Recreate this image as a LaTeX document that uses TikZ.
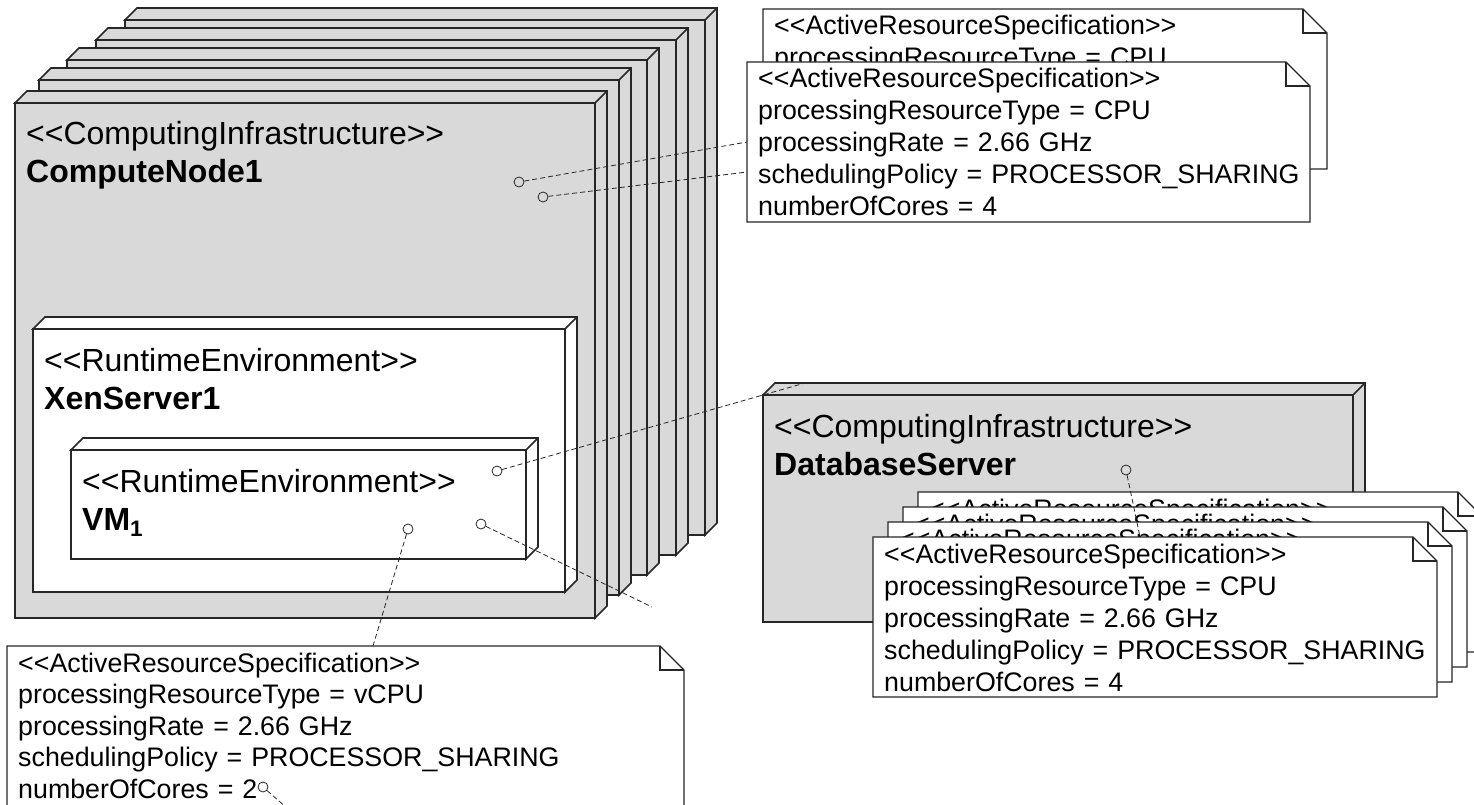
\documentclass[tikz,border=0pt]{standalone}
\usepackage{fontspec}
\newfontfamily\umlfont{Liberation Sans}
\definecolor{NodeGray}{HTML}{D9D9D9}
\definecolor{Ink}{HTML}{262626}

\newcommand\boxfaces[2]{%
  \filldraw[boxedge,fill=#2] (#1.north west) -- ++(12,-12) -- ([shift={(12,-12)}]#1.north east)
    -- ([shift={(12,-12)}]#1.south east) -- (#1.south east) -- (#1.north east) -- cycle;
  \draw[boxedge] (#1.north east) -- ++(12,-12);}
\newcommand\dogear[1]{%
  \filldraw[noteline] (#1.south west) -- (#1.north west) -- ([xshift=-24pt]#1.north east)
    -- ([yshift=-24pt]#1.north east) -- (#1.south east) -- cycle;
  \draw[noteline,fill=none] ([xshift=-24pt]#1.north east) |- ([yshift=-24pt]#1.north east);}

\begin{document}
\begin{tikzpicture}[x=1pt,y=-1pt,font=\umlfont,
  device/.style={draw=Ink,line width=1.6pt,anchor=north west,inner sep=0pt,outer sep=0pt},
  boxedge/.style={draw=Ink,line width=1.6pt},
  stereo/.style={anchor=base west,inner sep=0pt,text width=600pt,align=left,
    font=\umlfont\fontsize{32}{38}\selectfont},
  notebox/.style={anchor=north west,inner sep=0pt,outer sep=0pt,minimum width=564,minimum height=160},
  noteline/.style={draw=Ink,line width=1.3pt,fill=white},
  notetext/.style={anchor=base west,inner sep=0pt,text width=600pt,align=left,
    font=\umlfont\fontsize{26.8}{32}\selectfont},
  port/.style={circle,draw=Ink,line width=0.8pt,inner sep=0pt,minimum size=10pt},
  link/.style={draw=Ink,line width=0.8pt,dash pattern=on 5pt off 3pt}]
\useasboundingbox (0,0) rectangle (1474,805);
\clip (0,0) rectangle (1474,805);
% compute node stack, back to front
\foreach \nx/\ny/\k in {125/20/5,96/40/4,67/60/3,39/80/2,15/103/1}{
  \node[device,fill=NodeGray,minimum width=580,minimum height=515] (cn\k) at (\nx,\ny) {};
  \boxfaces{cn\k}{NodeGray}}
\node[stereo] (cn1title) at ([shift={(11,42)}]cn1.north west) {<<ComputingInfrastructure>>\\\textbf{ComputeNode1}};
\node[device,fill=white,minimum width=532,minimum height=263] (xen) at (33,329) {};
\boxfaces{xen}{white}
\node[stereo] (xentitle) at ([shift={(11,42)}]xen.north west) {<<RuntimeEnvironment>>\\\textbf{XenServer1}};
\node[device,fill=white,minimum width=455,minimum height=109] (vm) at (71,450) {};
\boxfaces{vm}{white}
\node[stereo] (vmtitle) at ([shift={(11,42)}]vm.north west) {<<RuntimeEnvironment>>\\\textbf{VM\textsubscript{1}}};
\node[device,fill=NodeGray,minimum width=590,minimum height=227] (db) at (763,395) {};
\boxfaces{db}{NodeGray}
\node[stereo] (dbtitle) at ([shift={(11,42)}]db.north west) {<<ComputingInfrastructure>>\\\textbf{DatabaseServer}};
% notes of the compute node
\node[notebox] (noteA) at (763,9) {};
\dogear{noteA}
\node[notetext] (noteAtext) at ([shift={(11,26)}]noteA.north west) {<<ActiveResourceSpecification>>\\processingResourceType = CPU};
\node[notebox,minimum width=563] (noteB) at (747,62) {};
\dogear{noteB}
\node[notetext] (noteBtext) at ([shift={(11,26)}]noteB.north west) {<<ActiveResourceSpecification>>\\processingResourceType = CPU\\processingRate = 2.66 GHz\\schedulingPolicy = PROCESSOR\_SHARING\\numberOfCores = 4};
% notes of the database server
\node[port] (dbPort) at (1126,470) {};
\foreach \nx/\ny/\k in {918/492/4,903/507/3,888/522/2}{
  \node[notebox] (dbn\k) at (\nx,\ny) {};
  \dogear{dbn\k}
  \node[notetext] (dbn\k text) at ([shift={(11,26)}]dbn\k.north west) {<<ActiveResourceSpecification>>};}
\coordinate (dbnTop) at (1140,537);
\draw[link] (dbPort) -- (dbnTop);
\node[notebox] (dbn1) at (873,537) {};
\dogear{dbn1}
\node[notetext] (dbn1text) at ([shift={(11,26)}]dbn1.north west) {<<ActiveResourceSpecification>>\\processingResourceType = CPU\\processingRate = 2.66 GHz\\schedulingPolicy = PROCESSOR\_SHARING\\numberOfCores = 4};
% note of the VM
\node[notebox,minimum width=677,minimum height=200] (vnote) at (7,646) {};
\dogear{vnote}
\node[notetext,font=\umlfont\fontsize{26.8}{31.5}\selectfont] (vnotetext) at ([shift={(11,26)}]vnote.north west) {<<ActiveResourceSpecification>>\\processingResourceType = vCPU\\processingRate = 2.66 GHz\\schedulingPolicy = PROCESSOR\_SHARING\\numberOfCores = 2};
% ports and links
\node[port] (cnPortA) at (519,182) {};
\node[port] (cnPortB) at (543,197) {};
\node[port] (vmPortA) at (497,471) {};
\node[port] (vmPortB) at (481,524) {};
\node[port] (vmPortC) at (408,529) {};
\node[port] (vnPort) at (263,787) {};
\coordinate (noteBlow) at (747,172);
\coordinate (dbTop) at (805,383);
\coordinate (vmOut) at (652,607);
\coordinate (vnoteTop) at (373,646);
\coordinate (vnOut) at (287,808);
\draw[link] (cnPortA) -- (noteB.west);
\draw[link] (cnPortB) -- (noteBlow);
\draw[link] (vmPortA) -- (dbTop);
\draw[link] (vmPortB) -- (vmOut);
\draw[link] (vmPortC) -- (vnoteTop);
\draw[link] (vnPort) -- (vnOut);
\end{tikzpicture}
\end{document}
